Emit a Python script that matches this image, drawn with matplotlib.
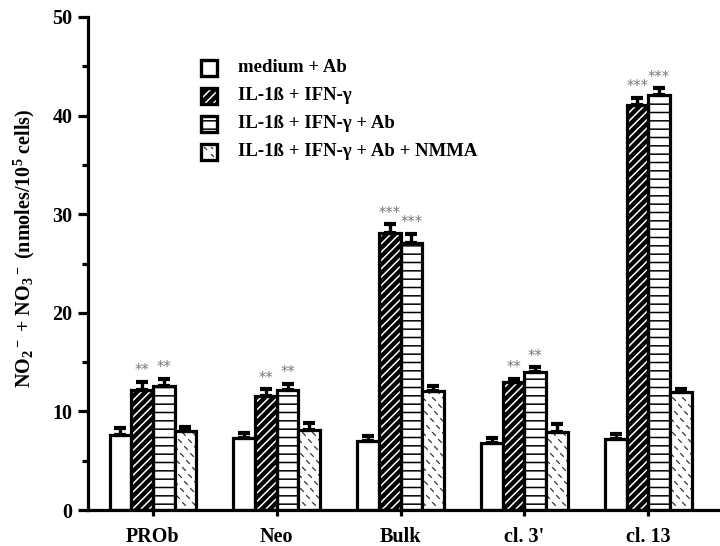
import numpy as np
import matplotlib
matplotlib.use("Agg")
import matplotlib.pyplot as plt
from matplotlib.patches import Rectangle
from matplotlib.collections import LineCollection
from matplotlib.transforms import IdentityTransform

plt.rcParams['font.family'] = ['Liberation Serif', 'DejaVu Serif']
plt.rcParams['font.weight'] = 'bold'
plt.rcParams['mathtext.fontset'] = 'custom'
plt.rcParams['mathtext.rm'] = 'Liberation Serif:bold'
plt.rcParams['mathtext.it'] = 'Liberation Serif:bold'
plt.rcParams['mathtext.bf'] = 'Liberation Serif:bold'
plt.rcParams['hatch.linewidth'] = 1.1

# data
groups = ["PROb", "Neo", "Bulk", "cl. 3'", "cl. 13"]
series = ["medium + Ab", "IL-1ß + IFN-γ", "IL-1ß + IFN-γ + Ab", "IL-1ß + IFN-γ + Ab + NMMA"]
medium_ab = [7.6, 7.35, 7.0, 6.8, 7.2]
il_ifn = [12.2, 11.6, 28.1, 13.0, 41.1]
il_ifn_ab = [12.6, 12.2, 27.1, 14.0, 42.1]
il_ifn_ab_nmma = [8.0, 8.1, 12.1, 7.95, 12.0]
err_medium_ab = [0.7, 0.45, 0.5, 0.5, 0.5]
err_il_ifn = [0.8, 0.65, 0.9, 0.3, 0.7]
err_il_ifn_ab = [0.7, 0.6, 0.9, 0.5, 0.7]
err_il_ifn_ab_nmma = [0.45, 0.7, 0.5, 0.75, 0.3]
stars_il_ifn = ["**", "**", "***", "**", "***"]
stars_il_ifn_ab = ["**", "**", "***", "**", "***"]

values = [medium_ab, il_ifn, il_ifn_ab, il_ifn_ab_nmma]
errors = [err_medium_ab, err_il_ifn, err_il_ifn_ab, err_il_ifn_ab_nmma]
stars = [None, stars_il_ifn, stars_il_ifn_ab, None]

fig = plt.figure(figsize=(7.2, 5.46), dpi=100)
ax = fig.add_axes([88 / 720, 36 / 546, 632 / 720, 493 / 546])

x = np.arange(len(groups))
w = 0.175
lw = 2.3


def dash_texture(ax, bar):
    # short "\" dashes in pixel space, clipped to the bar
    segs = []
    for j, yy in enumerate(np.arange(0, 546, 7.0)):
        for xx in np.arange(-10, 730, 10.0):
            cx = xx + (j * 4.0) % 10
            segs.append([(cx - 1.8, yy + 1.8), (cx + 1.8, yy - 1.8)])
    lc = LineCollection(segs, colors='#333333', linewidths=0.9, transform=IdentityTransform())
    ax.add_collection(lc, autolim=False)
    lc.set_clip_path(bar)


for i, vals in enumerate(values):
    pos = x + (i - 1.5) * w
    if i == 0:
        bars = ax.bar(pos, vals, w, facecolor='white', edgecolor='black', linewidth=lw, zorder=2)
    elif i == 1:
        ax.bar(pos, vals, w, facecolor='black', edgecolor='white', hatch='////', linewidth=0, zorder=2)
        bars = ax.bar(pos, vals, w, fill=False, edgecolor='black', linewidth=lw, zorder=3)
    elif i == 2:
        bars = ax.bar(pos, vals, w, facecolor='white', edgecolor='black', hatch='--', linewidth=lw, zorder=2)
    else:
        bars = ax.bar(pos, vals, w, fill=False, edgecolor='black', linewidth=lw, zorder=3)
        under = ax.bar(pos, vals, w, facecolor='white', linewidth=0, zorder=2)
        for b in under:
            dash_texture(ax, b)
    ax.errorbar(pos, vals, yerr=[np.zeros(len(vals)), errors[i]], fmt='none', ecolor='black',
                elinewidth=2.4, capsize=4.5, capthick=3.0, zorder=4)
    if stars[i] is not None:
        for p, v, e, s in zip(pos, vals, errors[i], stars[i]):
            ax.text(p, v + e + 0.35, s, ha='center', va='bottom', fontsize=10.5,
                    color='#777777', fontweight='normal', family='DejaVu Sans')

ax.set_xlim(-0.525, 4.58)
ax.set_ylim(0, 50)
ax.set_xticks(x, groups)
ax.set_yticks(np.arange(0, 51, 10))
ax.set_yticks(np.arange(5, 50, 10), minor=True)
ax.spines['top'].set_visible(False)
ax.spines['right'].set_visible(False)
ax.spines['left'].set_linewidth(2.3)
ax.spines['bottom'].set_linewidth(2.3)
ax.tick_params(axis='y', which='major', length=7, width=2.3, labelsize=14.5, pad=4)
ax.tick_params(axis='y', which='minor', length=4, width=2.3)
ax.tick_params(axis='x', length=4, width=2.3, labelsize=14.5, pad=8)
ax.set_ylabel(r'NO$_2$$^-$ + NO$_3$$^-$ (nmoles/10$^5$ cells)', fontsize=14.5,
              fontweight='bold')
ax.yaxis.set_label_coords(-0.08, 0.53)

# legend drawn by hand so the textures match
leg_y = [68, 96, 124, 152]
for i, (name, yy) in enumerate(zip(series, leg_y)):
    x0, y0 = 201, 546 - yy - 8
    kw = dict(transform=None, linewidth=2.4, zorder=5)
    if i == 0:
        fig.patches.append(Rectangle((x0, y0), 16, 16, facecolor='white', edgecolor='black', **kw))
    elif i == 1:
        fig.patches.append(Rectangle((x0, y0), 16, 16, facecolor='black', edgecolor='white', hatch='////',
                                     transform=None, linewidth=0, zorder=5))
        fig.patches.append(Rectangle((x0, y0), 16, 16, fill=False, edgecolor='black', **kw))
    elif i == 2:
        fig.patches.append(Rectangle((x0, y0), 16, 16, facecolor='white', edgecolor='black', hatch='--', **kw))
    else:
        fig.patches.append(Rectangle((x0, y0), 16, 16, facecolor='white', edgecolor='black', **kw))
        lc = LineCollection([[(x0 + 3, y0 + 13), (x0 + 6, y0 + 10)], [(x0 + 10, y0 + 6), (x0 + 13, y0 + 3)],
                             [(x0 + 10, y0 + 13), (x0 + 12, y0 + 11)]],
                            colors='#333333', linewidths=0.9, transform=IdentityTransform(), zorder=6)
        fig.add_artist(lc)
    fig.text(238 / 720, 1 - yy / 546, name, fontsize=13.5, va='center', ha='left')

fig.savefig("out.png", dpi=100)
